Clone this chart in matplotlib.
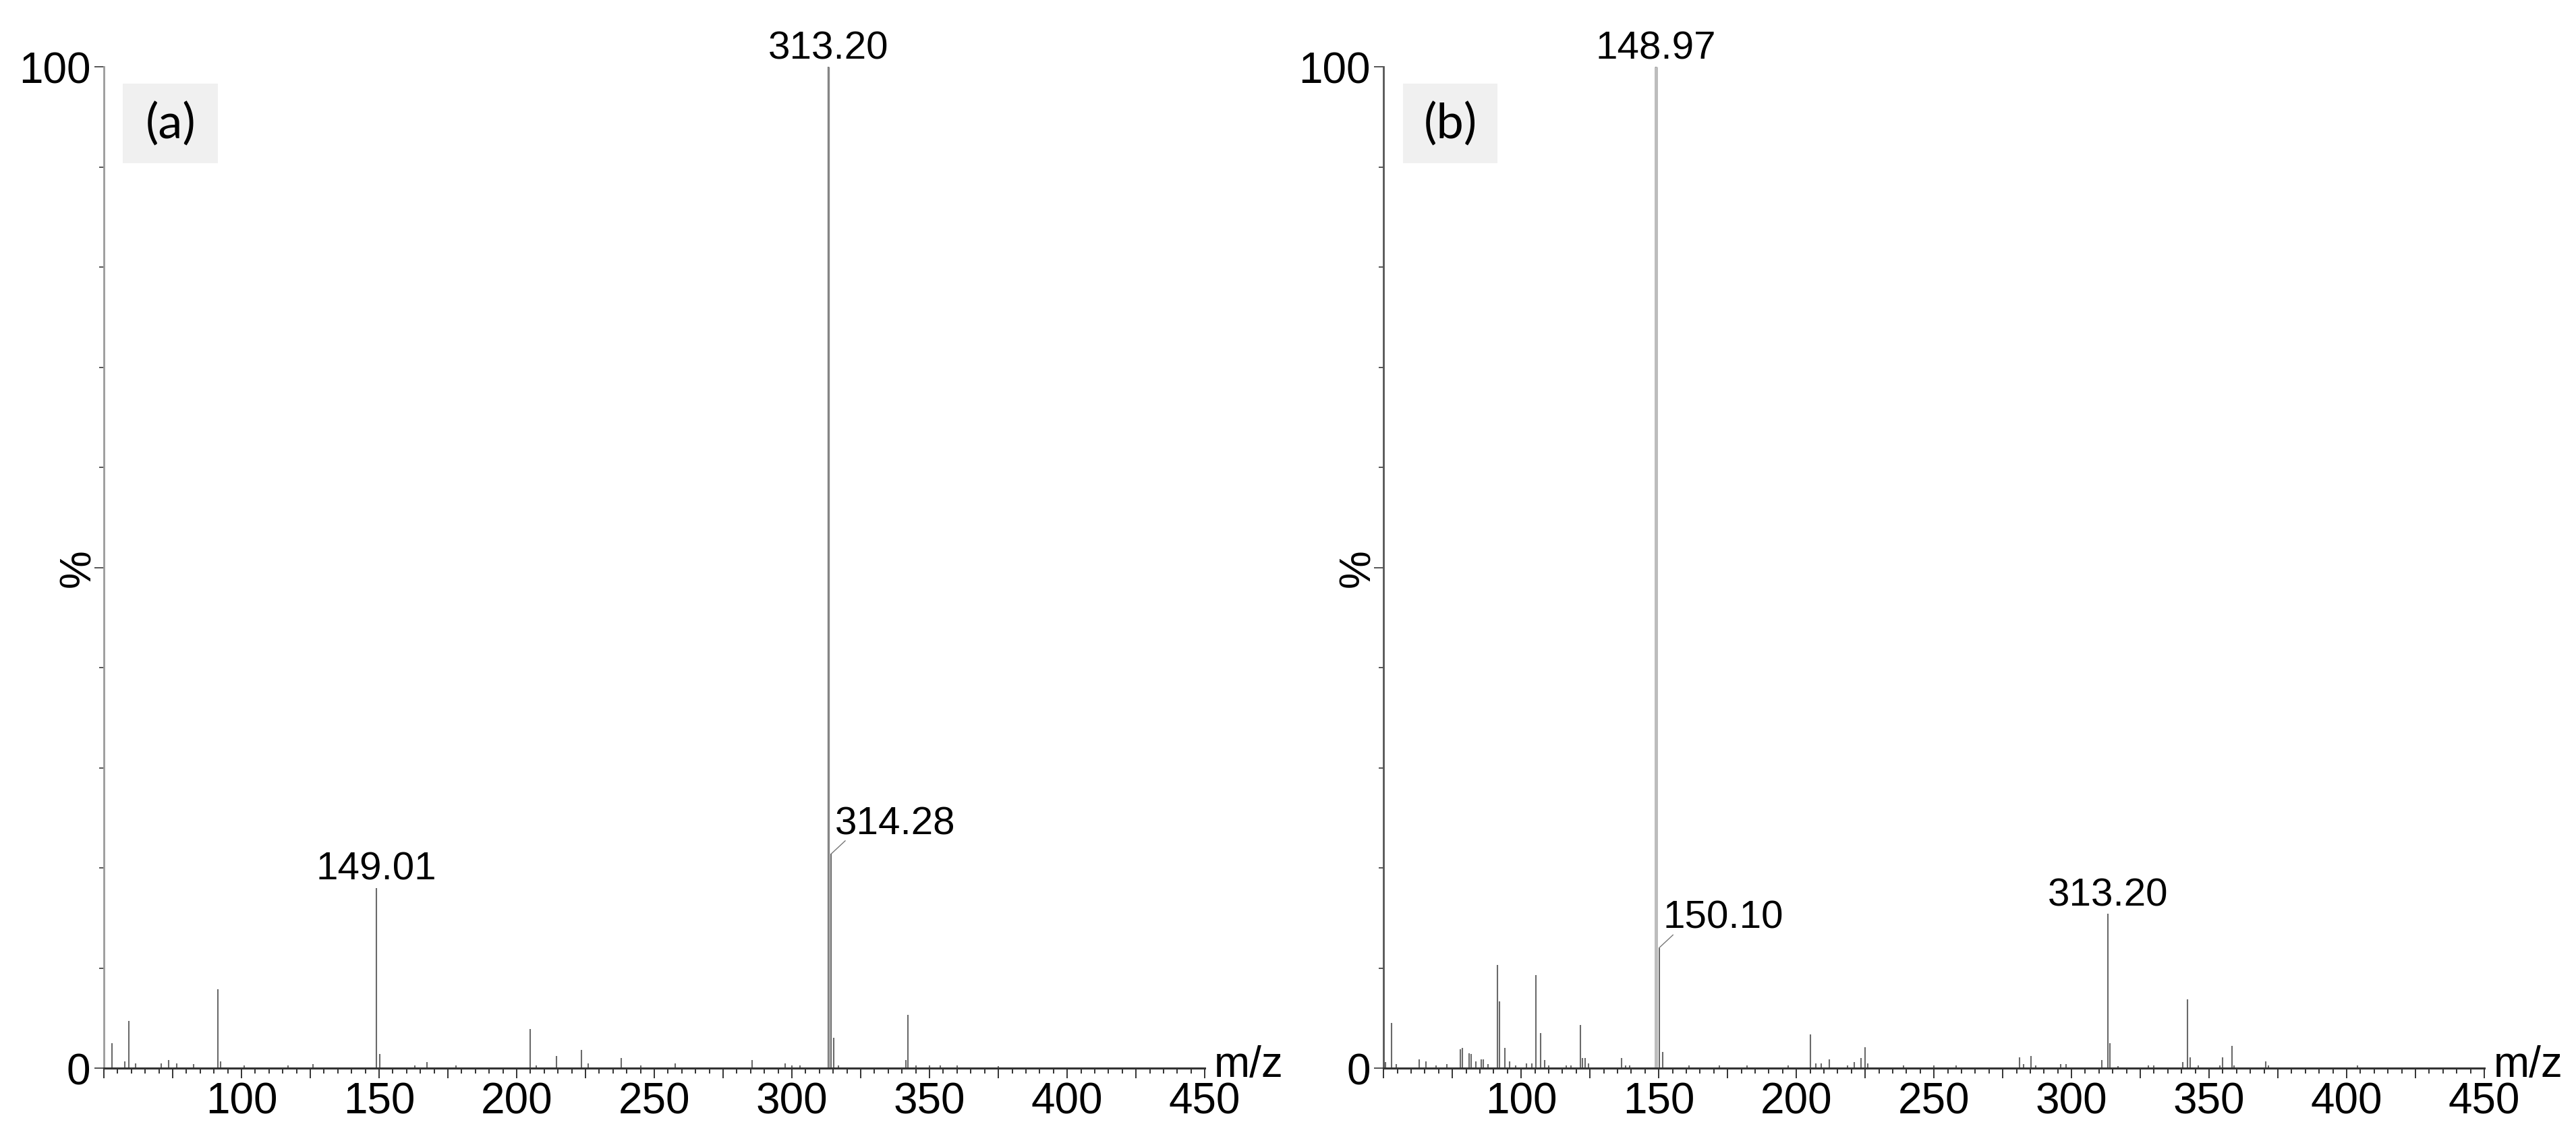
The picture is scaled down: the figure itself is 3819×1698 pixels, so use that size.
import numpy as np
import matplotlib.pyplot as plt
from matplotlib.ticker import MultipleLocator, FuncFormatter
from matplotlib.patches import Rectangle

plt.rcParams['font.family'] = ['Liberation Sans', 'DejaVu Sans']

# 质谱 (a)：m/z 与相对强度 %
mz_a = [53.0, 57.5, 59.2, 61.5, 70.8, 73.6, 76.5, 82.5, 91.4, 92.5, 101.0, 117.0,
        126.0, 149.01, 150.2, 163.0, 167.5, 178.0, 205.0, 207.0, 214.5, 223.5,
        226.0, 238.0, 245.0, 257.5, 285.5, 297.5, 300.0, 303.0, 313.20, 314.28,
        315.3, 317.0, 341.3, 342.2, 345.0, 350.0, 354.0, 360.0, 375.0]
int_a = [2.5, 0.7, 4.7, 0.5, 0.5, 0.8, 0.5, 0.4, 7.9, 0.7, 0.3, 0.3,
         0.4, 18.0, 1.4, 0.3, 0.6, 0.3, 3.9, 0.3, 1.2, 1.8,
         0.5, 1.0, 0.3, 0.5, 0.8, 0.5, 0.3, 0.3, 100.0, 21.4,
         3.0, 0.3, 0.8, 5.3, 0.3, 0.3, 0.3, 0.3, 0.2]
lab_a = [313.20, 149.01, 314.28]
side_a = [False, False, True]   # True: 标签放右侧并带引线

# 质谱 (b)
mz_b = [50.7, 53.0, 54.5, 63.0, 65.5, 69.0, 73.0, 77.9, 78.6, 81.0, 81.7, 83.5,
        85.5, 86.2, 88.0, 91.3, 92.0, 94.1, 95.8, 98.0, 102.0, 104.0, 105.4,
        107.1, 108.5, 110.0, 116.5, 118.0, 121.6, 122.2, 123.2, 124.5, 136.5,
        138.0, 139.5, 148.97, 150.10, 151.5, 161.0, 172.0, 182.0, 197.0, 205.0,
        207.0, 209.0, 212.0, 218.5, 221.0, 223.4, 225.0, 226.0, 239.0, 250.0,
        258.0, 281.0, 282.5, 285.3, 287.0, 296.0, 298.0, 311.0, 313.20, 314.0,
        317.0, 328.0, 330.0, 340.5, 342.1, 343.0, 346.0, 354.0, 355.0, 358.2,
        359.0, 370.6, 371.5, 385.0, 404.0]
int_b = [0.6, 4.5, 0.4, 0.9, 0.7, 0.3, 0.4, 1.9, 2.0, 1.5, 1.4, 0.7,
         0.9, 0.9, 0.4, 10.3, 6.7, 2.0, 0.7, 0.3, 0.5, 0.5, 9.3,
         3.5, 0.8, 0.3, 0.3, 0.3, 4.3, 1.0, 1.0, 0.5, 1.0,
         0.3, 0.3, 100.0, 12.0, 1.6, 0.3, 0.3, 0.3, 0.3, 3.4,
         0.5, 0.5, 0.9, 0.3, 0.6, 1.0, 2.1, 0.5, 0.3, 0.3,
         0.3, 1.1, 0.4, 1.2, 0.3, 0.4, 0.4, 0.8, 15.4, 2.5,
         0.2, 0.3, 0.3, 0.6, 6.9, 1.1, 0.3, 0.3, 1.1, 2.2,
         0.3, 0.7, 0.3, 0.1, 0.3]
lab_b = [148.97, 150.10, 313.20]
side_b = [False, True, False]

x_labels = [100, 150, 200, 250, 300, 350, 400, 450]
y_labels = [0, 100]


def draw(ax, mz, inten, labs, sides, tag, base_color, base_lw, left_color):
    mz = np.array(mz)
    inten = np.array(inten)
    ax.vlines(mz, 0, inten, color='#6a6a6a', lw=1.5)
    i = np.argmax(inten)
    ax.vlines(mz[i], 0, inten[i], color=base_color, lw=base_lw)

    ax.set_xlim(50, 450)
    ax.set_ylim(0, 100)
    for s in ['top', 'right']:
        ax.spines[s].set_visible(False)
    ax.spines['bottom'].set_color('#333333')
    ax.spines['bottom'].set_linewidth(2.2)
    ax.spines['left'].set_color(left_color)
    ax.spines['left'].set_linewidth(2.0)

    ax.xaxis.set_major_locator(MultipleLocator(25))
    ax.xaxis.set_minor_locator(MultipleLocator(5))
    ax.xaxis.set_major_formatter(FuncFormatter(
        lambda v, p: f"{v:.0f}" if round(v) in x_labels else ''))
    ax.yaxis.set_major_locator(MultipleLocator(50))
    ax.yaxis.set_minor_locator(MultipleLocator(10))
    ax.yaxis.set_major_formatter(FuncFormatter(
        lambda v, p: f"{v:.0f}" if round(v) in y_labels else ''))

    ax.tick_params(axis='x', which='major', length=11, width=1.4, color='#333333',
                   labelsize=46, pad=3)
    ax.tick_params(axis='x', which='minor', length=5.5, width=1.4, color='#333333')
    ax.tick_params(axis='y', which='major', length=10, width=1.4, color='#555555',
                   labelsize=46, pad=4)
    ax.tick_params(axis='y', which='minor', length=5, width=1.4, color='#555555')

    # 峰标注
    for m, sd in zip(labs, sides):
        k = np.argmin(np.abs(mz - m))
        h = inten[k]
        if sd:
            ax.annotate('', xy=(m, h), xytext=(15, 14), textcoords='offset points',
                        arrowprops=dict(arrowstyle='-', color='#777777', lw=1.0,
                                        shrinkA=0, shrinkB=0),
                        annotation_clip=False)
            ax.annotate(f"{m:.2f}", xy=(m, h), xytext=(4, 21.6), textcoords='offset points',
                        ha='left', va='baseline', fontsize=42, annotation_clip=False)
        else:
            ax.annotate(f"{m:.2f}", xy=(m, h), xytext=(0, 9.4), textcoords='offset points',
                        ha='center', va='baseline', fontsize=42, annotation_clip=False)

    ax.annotate('m/z', xy=(1, 0), xycoords='axes fraction', xytext=(10, -8.5),
                textcoords='offset points', ha='left', va='baseline', fontsize=46)
    ax.annotate('%', xy=(0, 0.5), xycoords='axes fraction', xytext=(-27, 0),
                textcoords='offset points', ha='center', va='center', rotation=90,
                fontsize=46)

    ax.add_patch(Rectangle((0.0175, 0.904), 0.086, 0.079, transform=ax.transAxes,
                           facecolor='#f0f0f0', edgecolor='none', zorder=3))
    ax.text(0.0605, 0.9435, tag, transform=ax.transAxes, ha='center', va='center',
            fontsize=52, family=['Lato', 'DejaVu Sans'], zorder=4)


fig = plt.figure(figsize=(38.19, 16.99), dpi=100)
ax1 = fig.add_axes([0.0403, 0.0671, 0.4274, 0.874])
ax2 = fig.add_axes([0.5371, 0.0671, 0.4273, 0.874])

draw(ax1, mz_a, int_a, lab_a, side_a, '(a)', '#858585', 2.4, '#9a9a9a')
draw(ax2, mz_b, int_b, lab_b, side_b, '(b)', '#bdbdbd', 3.6, '#555555')

plt.savefig('out.png', dpi=100)
